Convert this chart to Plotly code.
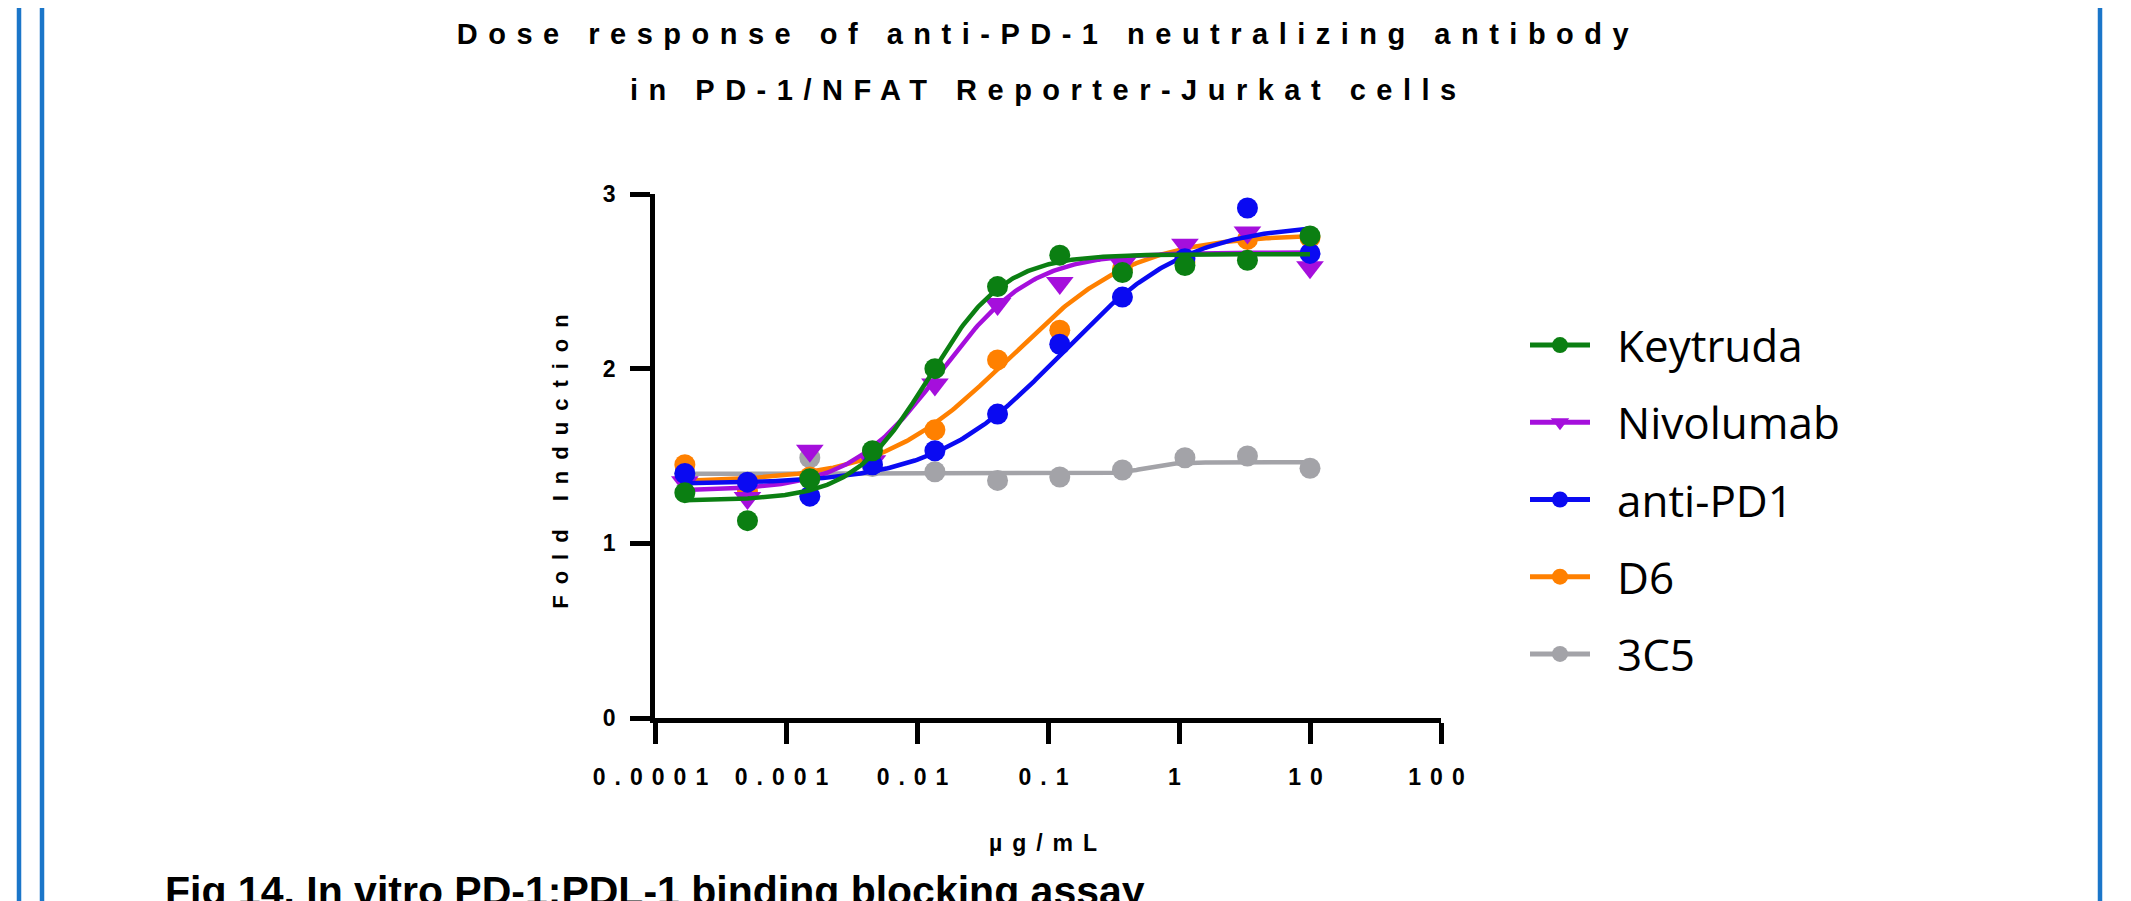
import numpy as np
import plotly.graph_objects as go

# ---------------- data ----------------
conc_ug_ml = [0.000169, 0.000508, 0.00152, 0.00457, 0.0137, 0.0412, 0.123, 0.370, 1.11, 3.33, 10.0]

series_names = ["Keytruda", "Nivolumab", "anti-PD1", "D6", "3C5"]

keytruda = [1.29, 1.13, 1.37, 1.53, 2.00, 2.47, 2.65, 2.55, 2.59, 2.62, 2.76]
nivolumab = [1.35, 1.26, 1.53, 1.47, 1.91, 2.37, 2.49, 2.60, 2.71, 2.78, 2.58]
anti_pd1 = [1.40, 1.35, 1.27, 1.45, 1.53, 1.74, 2.14, 2.41, 2.63, 2.92, 2.66]
d6 = [1.45, 1.30, 1.38, 1.52, 1.65, 2.05, 2.22, 2.57, 2.61, 2.74, 2.75]
c3c5 = [1.40, 1.34, 1.49, 1.44, 1.41, 1.36, 1.38, 1.42, 1.49, 1.50, 1.43]

# four-parameter logistic fit: bottom, top, logEC50, hill
fit_bottom = [1.245, 1.30, 1.34, 1.35, 1.398]
fit_top = [2.655, 2.665, 2.83, 2.77, 1.464]
fit_logec50 = [-1.91, -1.82, -0.90, -1.30, -0.25]
fit_hill = [1.5, 1.25, 0.9, 0.9, 4.0]

y_tick_vals = [0, 1, 2, 3]
x_tick_vals = [0.0001, 0.001, 0.01, 0.1, 1, 10, 100]
x_tick_text = ["0.0001", "0.001", "0.01", "0.1", "1", "10", "100"]

title_line1 = "Dose response of anti-PD-1 neutralizing antibody"
title_line2 = "in PD-1/NFAT Reporter-Jurkat cells"
y_title = "Fold Induction"
x_title = "µg/mL"
caption = "Fig 14. In vitro PD-1:PDL-1 binding blocking assay"

# ---------------- styles ----------------
colors = ["#0B7F12", "#A50FDC", "#0A0AF2", "#FF8000", "#A3A3A8"]
symbols = ["circle", "triangle-down", "circle", "circle", "circle"]
draw_order = [4, 3, 1, 2, 0]  # gray, orange, purple, blue, green on top

OFF = 8  # page body margin
W, H = 2131 - OFF, 901 - OFF
L, R, T, B = 655 - OFF, 1441 - OFF, 194 - OFF, 718 - OFF  # plot-area box (figure px)


def px_x(p):
    return (p - OFF - L) / (R - L)


def px_y(p):
    return (B - (p - OFF)) / (B - T)


NARROW = "Liberation Sans Narrow, Arial Narrow, Liberation Sans, Arial, sans-serif"
ARIAL = "Liberation Sans, Arial, sans-serif"


def spaced(s, px):
    return f"<span style='letter-spacing:{px}px'>{s}</span>"


all_values = [keytruda, nivolumab, anti_pd1, d6, c3c5]

fig = go.Figure()
xfit = np.logspace(np.log10(conc_ug_ml[0]), np.log10(conc_ug_ml[-1]), 300)
for i in draw_order:
    yfit = fit_bottom[i] + (fit_top[i] - fit_bottom[i]) / (
        1 + 10 ** ((fit_logec50[i] - np.log10(xfit)) * fit_hill[i]))
    fig.add_trace(go.Scatter(x=xfit, y=yfit, mode="lines", showlegend=False,
                             line=dict(color=colors[i], width=4.5), hoverinfo="skip",
                             cliponaxis=False))
    fig.add_trace(go.Scatter(x=conc_ug_ml, y=all_values[i], mode="markers", name=series_names[i],
                             showlegend=False, cliponaxis=False,
                             marker=dict(color=colors[i], symbol=symbols[i],
                                         size=24 if symbols[i] != "circle" else 21)))

for i, nm in enumerate(series_names):
    fig.add_trace(go.Scatter(x=[None], y=[None], mode="lines+markers", name="\u2002" + nm,
                             legendgroup=nm, legendrank=i + 1,
                             line=dict(color=colors[i], width=5),
                             marker=dict(color=colors[i], symbol=symbols[i], size=16)))

axis_common = dict(showline=True, linewidth=4.5, linecolor="black", ticks="outside",
                   tickwidth=4.5, tickcolor="black", showgrid=False, zeroline=False,
                   mirror=False)

fig.update_layout(
    width=W, height=H, autosize=False,
    margin=dict(l=L, r=W - R, t=T, b=H - B, pad=0),
    paper_bgcolor="white", plot_bgcolor="white",
    title=dict(text=spaced(title_line1, 10.5), x=0.5, xref="paper", xanchor="center",
               y=1 - (34 - OFF) / H, yref="container", yanchor="middle",
               font=dict(family=NARROW, size=29, color="black", weight="bold")),
    xaxis=dict(type="log", range=[-4, 2], tickvals=x_tick_vals,
               ticktext=[spaced(t, 9) for t in x_tick_text], ticklen=21,
               ticklabelstandoff=14,
               tickfont=dict(family=NARROW, size=23, color="black", weight="bold"),
               title=dict(text=spaced(x_title, 10), standoff=47,
                          font=dict(family=NARROW, size=23, color="black", weight="bold")),
               **axis_common),
    yaxis=dict(range=[0, 3], tickvals=y_tick_vals, ticklen=20, ticklabelstandoff=10,
               tickfont=dict(family=NARROW, size=23, color="black", weight="bold"),
               title=dict(text=spaced(y_title, 11), standoff=30,
                          font=dict(family=ARIAL, size=22, color="black", weight="bold")),
               **axis_common),
    legend=dict(x=px_x(1525), y=px_y(310), xanchor="left", yanchor="top",
                font=dict(family="Open Sans, Noto Sans, sans-serif", size=44, color="black"),
                tracegroupgap=17, itemwidth=60, bgcolor="rgba(0,0,0,0)",
                traceorder="grouped"),
    showlegend=True,
)

fig.add_annotation(text=spaced(title_line2, 10.5), xref="paper", yref="paper",
                   x=0.5, y=px_y(90), xanchor="center", yanchor="middle", showarrow=False,
                   font=dict(family=NARROW, size=29, color="black", weight="bold"))

fig.add_annotation(text=caption, xref="paper", yref="paper", x=px_x(163), y=px_y(866),
                   xanchor="left", yanchor="top", showarrow=False,
                   font=dict(family=NARROW, size=41, color="black", weight="bold"))

# blue page frame lines
for xp in [19, 42, 2100]:
    fig.add_shape(type="line", xref="paper", yref="paper", x0=px_x(xp), x1=px_x(xp),
                  y0=px_y(-10), y1=px_y(911), line=dict(color="#1B76C9", width=4.5))

fig.write_html("out.html")
